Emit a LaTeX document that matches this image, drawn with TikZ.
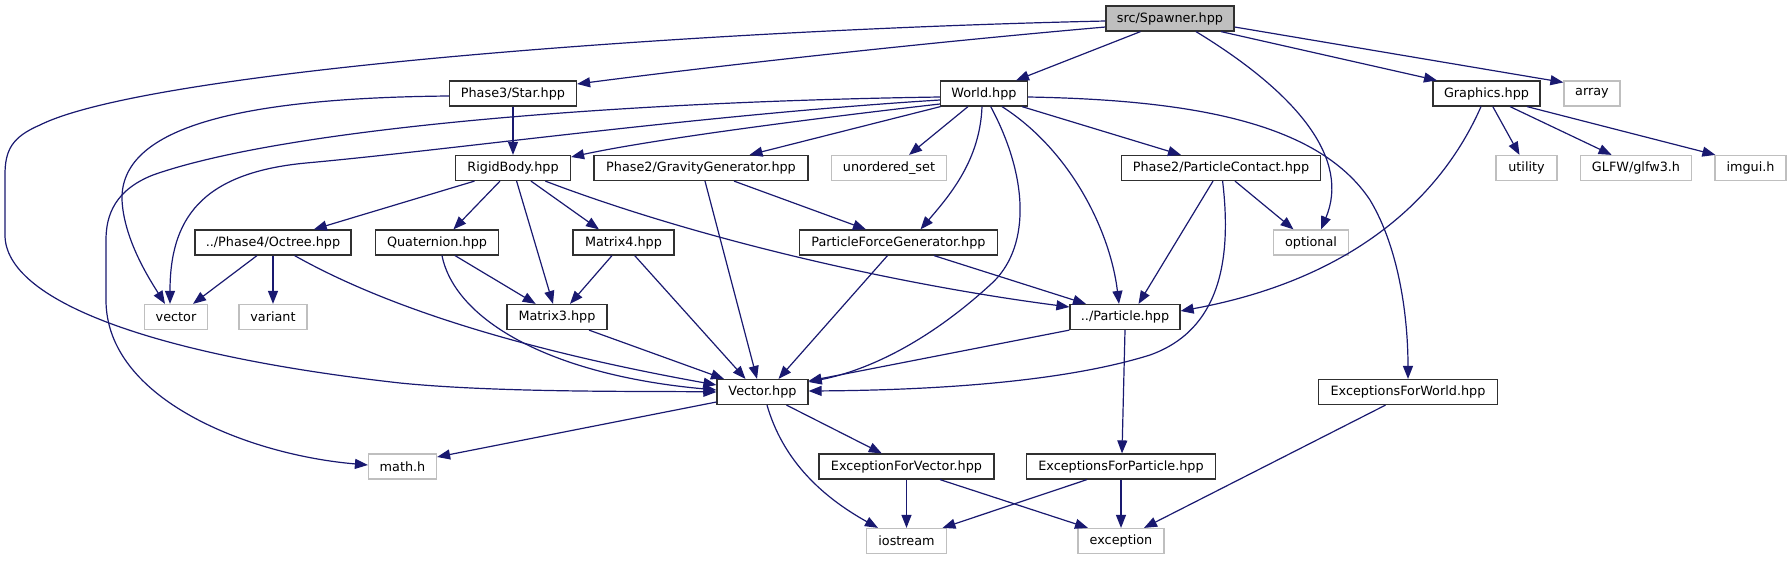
\documentclass[tikz,border=0pt]{standalone}
\usepackage{fontspec}
\setmainfont{DejaVu Sans}
\usetikzlibrary{arrows.meta}
\definecolor{edgec}{HTML}{191970}
\definecolor{gry}{HTML}{BFBFBF}
\definecolor{bord}{HTML}{303030}
\begin{document}
\begin{tikzpicture}[x=1pt,y=-1pt,
  box/.style={draw=bord, line width=1.2pt, fill=white, minimum height=25pt, inner sep=0pt, font=\fontsize{12.8}{15}\selectfont},
  ext/.style={box, draw=gry},
  dep/.style={draw=edgec, line width=1.2pt, -{Triangle[length=13pt,width=10pt]}}]
\useasboundingbox (0,0) rectangle (1791,560);
% nodes
\node[box, fill=gry, minimum width=128pt] (spawner) at (1170,18.5) {src/Spawner.hpp};
\node[box, minimum width=127pt] (star) at (513,93.5) {Phase3/Star.hpp};
\node[box, minimum width=87pt] (world) at (984,93.5) {World.hpp};
\node[box, minimum width=107pt] (graphics) at (1486.5,93.5) {Graphics.hpp};
\node[ext, minimum width=56pt] (array) at (1592,93.5) {array};
\node[box, minimum width=115pt] (rigid) at (513,168) {RigidBody.hpp};
\node[box, minimum width=214pt] (gravity) at (701,168) {Phase2/GravityGenerator.hpp};
\node[ext, minimum width=115pt] (unordered) at (889,168) {unordered\_set};
\node[box, minimum width=199pt] (contact) at (1221,168) {Phase2/ParticleContact.hpp};
\node[ext, minimum width=61pt] (utility) at (1526.5,168) {utility};
\node[ext, minimum width=111pt] (glfw) at (1636,168) {GLFW/glfw3.h};
\node[ext, minimum width=71pt] (imgui) at (1750.5,168) {imgui.h};
\node[box, minimum width=156pt] (octree) at (273,242.5) {../Phase4/Octree.hpp};
\node[box, minimum width=123pt] (quat) at (437,242.5) {Quaternion.hpp};
\node[box, minimum width=101pt] (matrix4) at (623.5,242.5) {Matrix4.hpp};
\node[box, minimum width=198pt] (pfg) at (898.5,242.5) {ParticleForceGenerator.hpp};
\node[ext, minimum width=75pt] (optional) at (1311,242.5) {optional};
\node[ext, minimum width=63pt] (stdvec) at (176,317) {vector};
\node[ext, minimum width=68pt] (variant) at (273,317) {variant};
\node[box, minimum width=100pt] (matrix3) at (557,317) {Matrix3.hpp};
\node[box, minimum width=110pt] (particle) at (1125,317) {../Particle.hpp};
\node[box, minimum width=91pt] (vec) at (762.5,392) {Vector.hpp};
\node[box, minimum width=179pt] (exworld) at (1408,392) {ExceptionsForWorld.hpp};
\node[ext, minimum width=68pt] (mathh) at (402.5,466.5) {math.h};
\node[box, minimum width=175pt] (exvector) at (906.5,466.5) {ExceptionForVector.hpp};
\node[box, minimum width=189pt] (expart) at (1121,466.5) {ExceptionsForParticle.hpp};
\node[ext, minimum width=80pt] (iostream) at (906.5,541) {iostream};
\node[ext, minimum width=86pt] (exception) at (1121,541) {exception};
% edges from Spawner
\draw[dep] ([yshift=-2.5pt]spawner.west) .. controls (700,30) and (150,70) .. (40,125)
  .. controls (12,137) and (5,150) .. (5,175) -- (5,235)
  .. controls (5,300) and (150,355) .. (400,383) .. controls (500,393) and (650,391) .. (vec.west);
\draw[dep] ([yshift=-8.5pt]spawner.west) .. controls (900,45) and (700,68) .. ([yshift=9.5pt]star.east);
\draw[dep] ([xshift=-29.5pt]spawner.south) -- ([xshift=32pt]world.north);
\draw[dep] ([xshift=26pt]spawner.south) .. controls (1300,95) and (1350,160) .. ([xshift=10pt]optional.north);
\draw[dep] ([xshift=51pt]spawner.south) -- ([xshift=-49.5pt]graphics.north);
\draw[dep] ([yshift=-8.5pt]spawner.east) -- ([yshift=-2pt]array.north west);
% Star
\draw[dep] (star.south) -- (rigid.north);
\draw[dep] ([yshift=-2.5pt]star.west) .. controls (230,98) and (120,130) .. (122,200)
  .. controls (124,240) and (150,280) .. ([xshift=-11pt]stdvec.north);
% World
\draw[dep] ([yshift=-3.5pt]world.west) .. controls (600,102) and (280,130) .. (153,175)
  .. controls (115,190) and (106,215) .. (106,240) -- (106,300)
  .. controls (106,400) and (250,455) .. ([yshift=1.5pt]mathh.west);
\draw[dep] ([yshift=-6.5pt]world.west) .. controls (700,115) and (450,150) .. (306,163)
  .. controls (200,173) and (170,220) .. ([xshift=-6pt]stdvec.north);
\draw[dep] ([yshift=-10.5pt]world.west) .. controls (800,120) and (650,140) .. ([yshift=11pt]rigid.east);
\draw[dep] ([xshift=-43.5pt]world.south) -- ([xshift=48.5pt]gravity.north);
\draw[dep] ([xshift=-16pt]world.south) -- ([xshift=20pt]unordered.north);
\draw[dep] ([xshift=-2pt]world.south) .. controls (980,160) and (950,195) .. ([xshift=22pt]pfg.north);
\draw[dep] ([xshift=6.7pt]world.south) .. controls (1030,180) and (1030,250) .. (990,285)
  .. controls (930,340) and (870,370) .. ([yshift=10pt]vec.east);
\draw[dep] ([xshift=18pt]world.south) .. controls (1070,150) and (1110,230) .. ([xshift=-6pt]particle.north);
\draw[dep] ([xshift=38pt]world.south) -- ([xshift=-40pt]contact.north);
\draw[dep] ([yshift=-3.5pt]world.east) .. controls (1200,100) and (1320,125) .. (1370,200)
  .. controls (1400,250) and (1408,320) .. (exworld.north);
% Graphics
\draw[dep] ([xshift=6.3pt]graphics.south) -- ([xshift=-7pt]utility.north);
\draw[dep] ([xshift=23.5pt]graphics.south) -- ([xshift=-24.4pt]glfw.north);
\draw[dep] ([xshift=40.5pt]graphics.south) -- ([xshift=1pt]imgui.north west);
\draw[dep] ([xshift=-5.5pt]graphics.south) .. controls (1440,200) and (1350,280) .. ([yshift=6pt]particle.east);
% RigidBody
\draw[dep] ([xshift=-38.5pt]rigid.south) -- ([xshift=40.8pt]octree.north);
\draw[dep] ([xshift=-13pt]rigid.south) -- ([xshift=16.4pt]quat.north);
\draw[dep] ([xshift=3.6pt]rigid.south) -- ([xshift=-4pt]matrix3.north);
\draw[dep] ([xshift=18pt]rigid.south) -- ([xshift=-24.5pt]matrix4.north);
\draw[dep] ([xshift=32.3pt]rigid.south) .. controls (700,240) and (900,285) .. ([yshift=10pt]particle.west);
% Octree
\draw[dep] ([xshift=-16pt]octree.south) -- ([xshift=17pt]stdvec.north);
\draw[dep] (octree.south) -- (variant.north);
\draw[dep] ([xshift=21.6pt]octree.south) .. controls (400,315) and (550,355) .. ([yshift=7pt]vec.west);
% Quaternion
\draw[dep] ([xshift=18pt]quat.south) -- ([xshift=-21.3pt]matrix3.north);
\draw[dep] ([xshift=5pt]quat.south) .. controls (455,320) and (550,375) .. ([yshift=2pt]vec.west);
% Matrix4, Matrix3
\draw[dep] ([xshift=-11.5pt]matrix4.south) -- ([xshift=13pt]matrix3.north);
\draw[dep] ([xshift=11.2pt]matrix4.south) -- ([xshift=-17pt]vec.north);
\draw[dep] ([xshift=32pt]matrix3.south) -- ([xshift=-38.5pt]vec.north);
% Gravity, PFG
\draw[dep] ([xshift=4pt]gravity.south) -- ([xshift=-5.5pt]vec.north);
\draw[dep] ([xshift=33pt]gravity.south) -- ([xshift=-32.5pt]pfg.north);
\draw[dep] ([xshift=-11pt]pfg.south) -- ([xshift=16pt]vec.north);
\draw[dep] ([xshift=35.5pt]pfg.south) -- ([xshift=-39pt]particle.north);
% Contact
\draw[dep] ([xshift=-8pt]contact.south) -- ([xshift=13.5pt]particle.north);
\draw[dep] ([xshift=14pt]contact.south) -- ([xshift=-17.5pt]optional.north);
\draw[dep] ([xshift=1.6pt]contact.south) .. controls (1232,260) and (1220,330) .. (1150,355)
  .. controls (1070,380) and (950,390) .. ([yshift=1pt]vec.east);
% Particle
\draw[dep] (particle.south west) -- ([yshift=11pt]vec.east);
\draw[dep] (particle.south) -- ([xshift=1pt]expart.north);
% Vector
\draw[dep] ([yshift=-10pt]vec.west) -- ([yshift=9.5pt]mathh.east);
\draw[dep] ([xshift=24pt]vec.south) -- ([xshift=-24.7pt]exvector.north);
\draw[dep] ([xshift=4.5pt]vec.south) .. controls (780,450) and (810,490) .. ([xshift=-28.5pt]iostream.north);
% Exceptions
\draw[dep] (exvector.south) -- (iostream.north);
\draw[dep] ([xshift=33.5pt]exvector.south) -- ([xshift=-33pt]exception.north);
\draw[dep] ([xshift=-34pt]expart.south) -- ([xshift=36pt]iostream.north);
\draw[dep] (expart.south) -- (exception.north);
\draw[dep] ([xshift=-22.5pt]exworld.south) -- ([xshift=23pt]exception.north);
\end{tikzpicture}
\end{document}
